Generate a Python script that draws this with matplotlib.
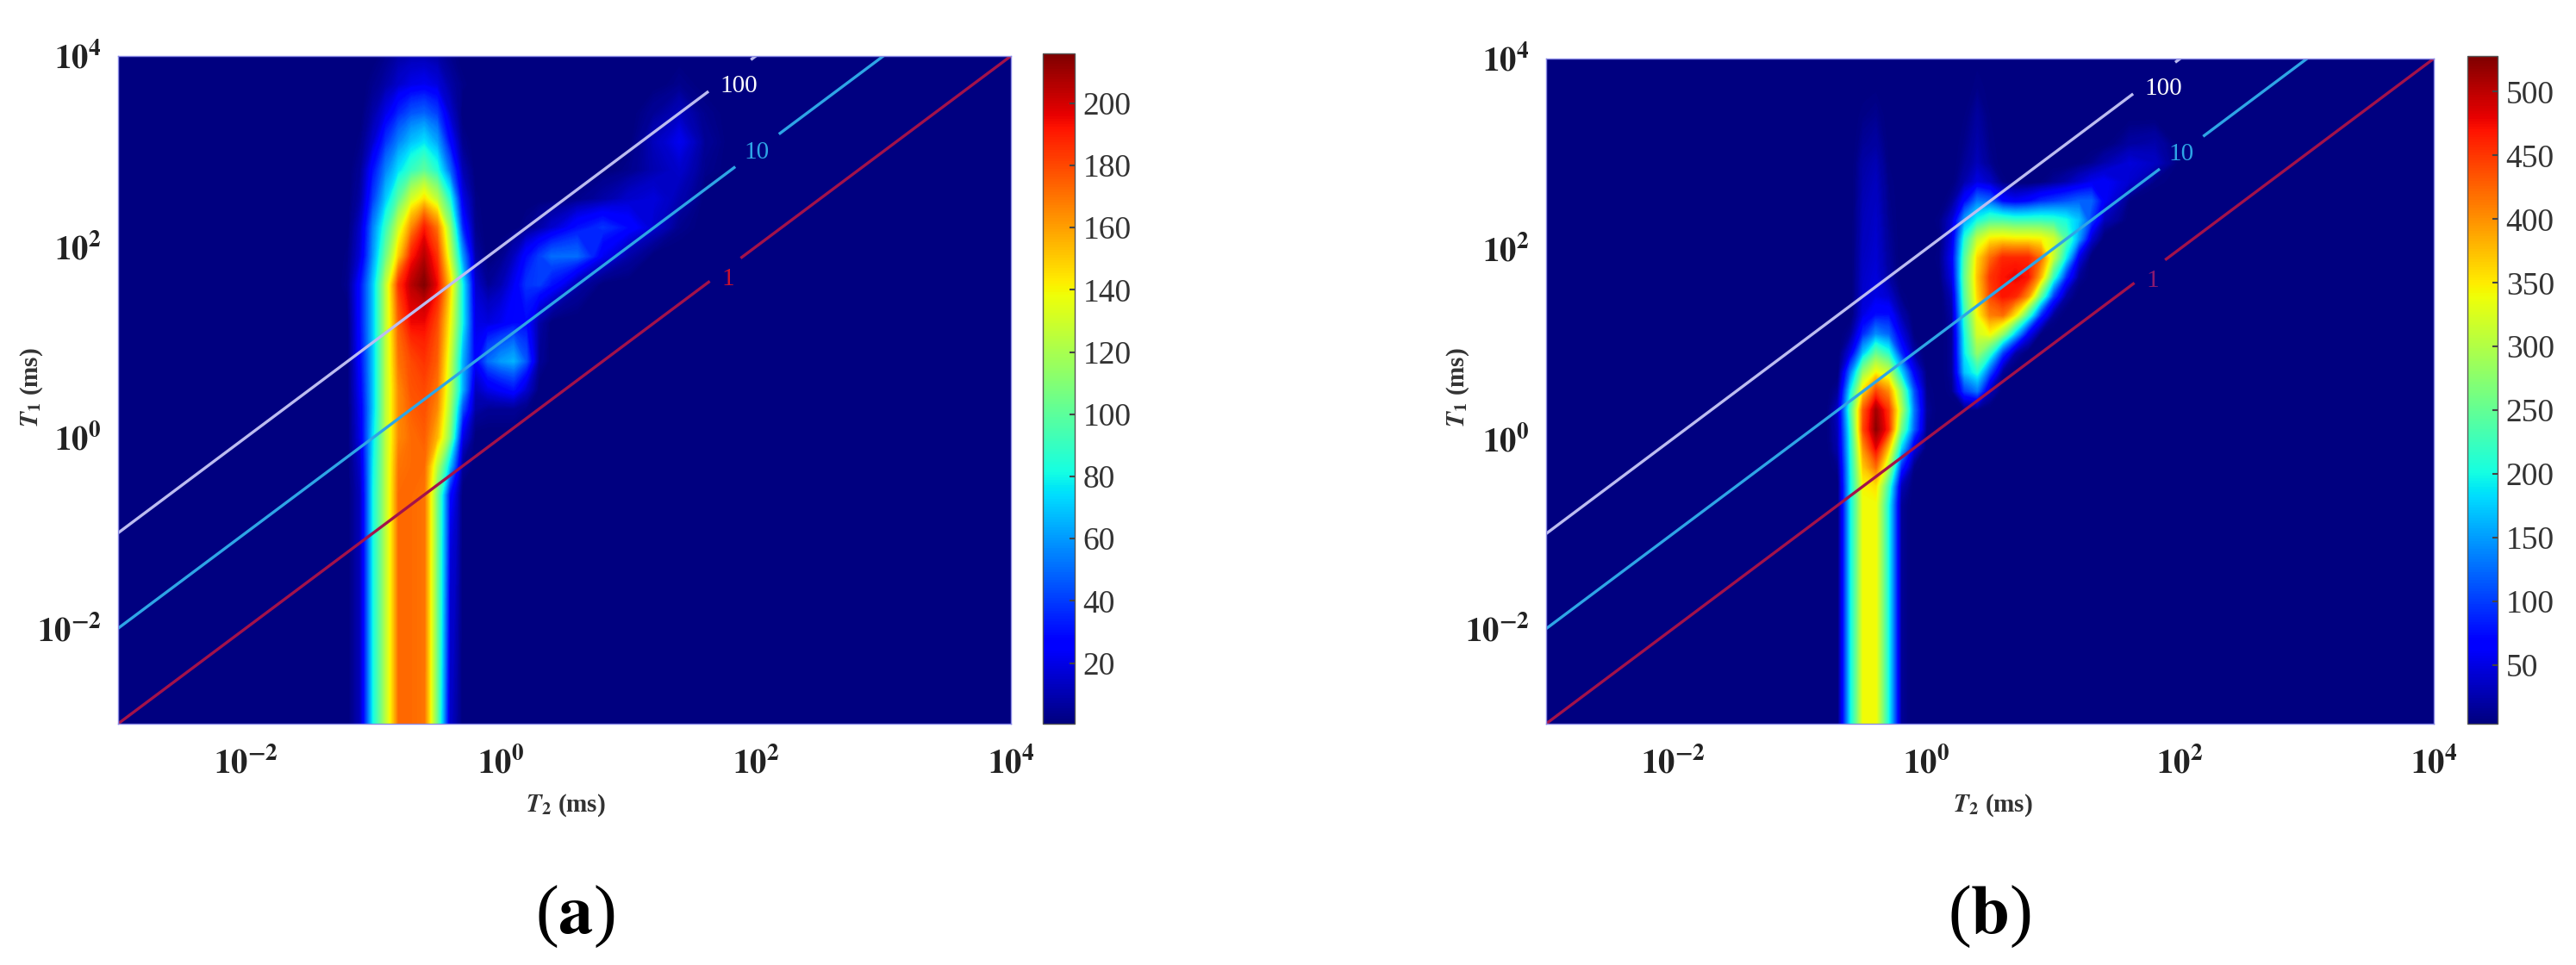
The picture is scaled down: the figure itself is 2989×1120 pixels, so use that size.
import numpy as np
import matplotlib
matplotlib.use('Agg')
import matplotlib.pyplot as plt
from matplotlib.cm import ScalarMappable
from matplotlib.colors import Normalize

plt.rcParams['font.family'] = ['Liberation Serif', 'DejaVu Serif']
plt.rcParams['mathtext.fontset'] = 'stix'

W, H = 2989, 1120

# log10 of the grid positions, panel (a)
log_t2_a = [-3, -1.3, -1.2, -1.1, -1.0, -0.9, -0.8, -0.7, -0.6, -0.5, -0.4, -0.3, -0.2, -0.1,
            0, 0.1, 0.2, 0.3, 0.4, 0.6, 0.8, 1.0, 1.2, 1.4, 1.6, 1.8, 4]
log_t1_a = [-3, -0.6, -0.3, 0, 0.3, 0.5, 0.8, 1.2, 1.6, 1.9, 2.2, 2.5, 2.8, 3.1, 3.4, 3.7, 4]
amp_a = [
    [0, 0, 0, 12, 80, 125, 172, 172, 170, 105, 15, 0, 0, 0, 0, 0, 0, 0, 0, 0, 0, 0, 0, 0, 0, 0, 0],
    [0, 0, 0, 12, 80, 125, 172, 172, 170, 108, 30, 0, 0, 0, 0, 0, 0, 0, 0, 0, 0, 0, 0, 0, 0, 0, 0],
    [0, 0, 0, 15, 78, 125, 170, 172, 172, 125, 70, 5, 0, 0, 0, 0, 0, 0, 0, 0, 0, 0, 0, 0, 0, 0, 0],
    [0, 0, 0, 20, 75, 125, 165, 172, 175, 155, 110, 20, 0, 0, 0, 0, 0, 0, 0, 0, 0, 0, 0, 0, 0, 0, 0],
    [0, 0, 0, 22, 70, 125, 165, 175, 178, 165, 120, 45, 8, 5, 5, 5, 2, 0, 0, 0, 0, 0, 0, 0, 0, 0, 0],
    [0, 0, 0, 25, 70, 125, 165, 178, 180, 170, 125, 65, 12, 20, 25, 30, 15, 0, 0, 0, 0, 0, 0, 0, 0, 0, 0],
    [0, 0, 0, 28, 70, 125, 170, 180, 185, 175, 130, 65, 25, 50, 60, 65, 45, 5, 0, 0, 0, 0, 0, 0, 0, 0, 0],
    [0, 0, 0, 30, 70, 125, 175, 195, 195, 180, 140, 80, 20, 18, 22, 28, 28, 8, 0, 0, 0, 0, 0, 0, 0, 0, 0],
    [0, 0, 3, 30, 70, 125, 185, 205, 215, 195, 150, 80, 15, 5, 10, 22, 38, 40, 30, 8, 0, 0, 0, 0, 0, 0, 0],
    [0, 0, 2, 18, 60, 105, 150, 190, 205, 185, 130, 60, 8, 0, 3, 12, 28, 40, 50, 50, 22, 8, 0, 0, 0, 0, 0],
    [0, 0, 0, 15, 55, 90, 130, 165, 190, 170, 115, 35, 3, 0, 0, 0, 3, 8, 15, 30, 38, 28, 15, 3, 0, 0, 0],
    [0, 0, 0, 8, 40, 70, 100, 130, 145, 125, 85, 20, 2, 0, 0, 0, 0, 0, 0, 3, 8, 15, 18, 10, 0, 0, 0],
    [0, 0, 0, 5, 30, 55, 75, 90, 100, 85, 50, 10, 0, 0, 0, 0, 0, 0, 0, 0, 0, 3, 10, 15, 3, 0, 0],
    [0, 0, 0, 2, 15, 38, 55, 68, 75, 62, 28, 3, 0, 0, 0, 0, 0, 0, 0, 0, 0, 0, 12, 22, 5, 0, 0],
    [0, 0, 0, 0, 8, 20, 35, 45, 48, 40, 15, 0, 0, 0, 0, 0, 0, 0, 0, 0, 0, 0, 5, 12, 3, 0, 0],
    [0, 0, 0, 0, 3, 8, 15, 20, 22, 18, 8, 2, 0, 0, 0, 0, 0, 0, 0, 0, 0, 0, 0, 3, 0, 0, 0],
    [0, 0, 0, 0, 0, 3, 8, 10, 10, 8, 3, 0, 0, 0, 0, 0, 0, 0, 0, 0, 0, 0, 0, 0, 0, 0, 0],
]

# log10 of the grid positions, panel (b)
log_t2_b = [-3, -0.8, -0.7, -0.6, -0.5, -0.4, -0.3, -0.2, -0.1, 0, 0.1, 0.2, 0.3, 0.4, 0.5, 0.6,
            0.7, 0.8, 0.9, 1.0, 1.1, 1.2, 1.3, 1.4, 1.6, 1.8, 2.0, 4]
log_t1_b = [-3, -0.7, -0.5, -0.3, -0.1, 0.1, 0.3, 0.5, 0.7, 0.9, 1.1, 1.3, 1.5, 1.7, 1.9, 2.1,
            2.3, 2.5, 2.7, 2.9, 3.1, 3.4, 3.7, 4]
amp_b = [
    [0, 0, 0, 190, 340, 340, 200, 15, 0, 0, 0, 0, 0, 0, 0, 0, 0, 0, 0, 0, 0, 0, 0, 0, 0, 0, 0, 0],
    [0, 0, 0, 190, 340, 340, 200, 15, 0, 0, 0, 0, 0, 0, 0, 0, 0, 0, 0, 0, 0, 0, 0, 0, 0, 0, 0, 0],
    [0, 0, 0, 190, 345, 355, 225, 30, 0, 0, 0, 0, 0, 0, 0, 0, 0, 0, 0, 0, 0, 0, 0, 0, 0, 0, 0, 0],
    [0, 0, 10, 195, 370, 420, 300, 90, 8, 0, 0, 0, 0, 0, 0, 0, 0, 0, 0, 0, 0, 0, 0, 0, 0, 0, 0, 0],
    [0, 0, 25, 200, 400, 480, 370, 180, 50, 0, 0, 0, 0, 0, 0, 0, 0, 0, 0, 0, 0, 0, 0, 0, 0, 0, 0, 0],
    [0, 0, 30, 210, 440, 520, 460, 260, 120, 10, 0, 0, 0, 0, 0, 0, 0, 0, 0, 0, 0, 0, 0, 0, 0, 0, 0, 0],
    [0, 0, 35, 230, 430, 510, 450, 300, 130, 15, 0, 0, 5, 5, 0, 0, 0, 0, 0, 0, 0, 0, 0, 0, 0, 0, 0, 0],
    [0, 0, 15, 190, 360, 440, 400, 270, 110, 10, 0, 10, 100, 130, 30, 0, 0, 0, 0, 0, 0, 0, 0, 0, 0, 0, 0, 0],
    [0, 0, 0, 130, 280, 340, 310, 180, 60, 5, 0, 15, 170, 210, 110, 15, 0, 0, 0, 0, 0, 0, 0, 0, 0, 0, 0, 0],
    [0, 0, 0, 50, 170, 250, 210, 90, 20, 0, 0, 15, 190, 280, 220, 100, 20, 0, 0, 0, 0, 0, 0, 0, 0, 0, 0, 0],
    [0, 0, 0, 15, 90, 140, 120, 50, 5, 0, 0, 15, 200, 320, 340, 280, 170, 60, 5, 0, 0, 0, 0, 0, 0, 0, 0, 0],
    [0, 0, 0, 0, 50, 75, 75, 25, 0, 0, 0, 20, 220, 340, 410, 420, 350, 230, 90, 15, 0, 0, 0, 0, 0, 0, 0, 0],
    [0, 0, 0, 0, 40, 50, 40, 8, 0, 0, 0, 30, 240, 360, 440, 470, 460, 400, 250, 100, 20, 0, 0, 0, 0, 0, 0, 0],
    [0, 0, 0, 0, 38, 45, 20, 0, 0, 0, 5, 50, 250, 370, 450, 470, 480, 470, 380, 220, 90, 15, 0, 0, 0, 0, 0, 0],
    [0, 0, 0, 0, 35, 42, 18, 0, 0, 0, 8, 60, 240, 360, 420, 460, 460, 460, 420, 310, 190, 50, 0, 0, 0, 0, 0, 0],
    [0, 0, 0, 0, 32, 40, 15, 0, 0, 0, 5, 50, 210, 310, 350, 355, 350, 350, 345, 320, 240, 150, 40, 0, 0, 0, 0, 0],
    [0, 0, 0, 0, 30, 38, 12, 0, 0, 0, 8, 40, 150, 200, 230, 230, 220, 220, 220, 215, 200, 170, 100, 30, 0, 0, 0, 0],
    [0, 0, 0, 0, 28, 35, 10, 0, 0, 0, 0, 15, 70, 130, 120, 70, 60, 70, 90, 100, 110, 120, 120, 60, 5, 0, 0, 0],
    [0, 0, 0, 0, 25, 32, 8, 0, 0, 0, 0, 3, 25, 50, 35, 8, 0, 0, 5, 15, 25, 40, 55, 60, 40, 8, 0, 0],
    [0, 0, 0, 0, 22, 28, 5, 0, 0, 0, 0, 0, 15, 30, 12, 0, 0, 0, 0, 0, 0, 5, 12, 25, 45, 35, 0, 0],
    [0, 0, 0, 0, 15, 20, 3, 0, 0, 0, 0, 0, 10, 25, 8, 0, 0, 0, 0, 0, 0, 0, 0, 3, 20, 25, 0, 0],
    [0, 0, 0, 0, 8, 12, 0, 0, 0, 0, 0, 0, 5, 18, 5, 0, 0, 0, 0, 0, 0, 0, 0, 0, 0, 0, 0, 0],
    [0, 0, 0, 0, 0, 3, 0, 0, 0, 0, 0, 0, 0, 8, 2, 0, 0, 0, 0, 0, 0, 0, 0, 0, 0, 0, 0, 0],
    [0, 0, 0, 0, 0, 0, 0, 0, 0, 0, 0, 0, 0, 2, 0, 0, 0, 0, 0, 0, 0, 0, 0, 0, 0, 0, 0, 0],
]

# T1/T2 guide lines: ratio, colour, T2 where the label gap starts and ends, label position
ratios = [100, 10, 1]
ratio_labels = ['100', '10', '1']
line_colors = ['#bcbcf0', '#2ea5e6', '#a3124a']
gap_start = [10**1.62, 10**1.83, 10**1.63]
gap_end = [10**1.97, 10**2.19, 10**1.89]
label_t2 = [10**1.865, 10**2.01, 10**1.78]
label_t1 = [10**3.68, 10**2.99, 10**1.66]
label_colors_a = ['white', '#2ea5e6', '#c8102e']
label_colors_b = ['white', '#2ea5e6', '#8a1a70']

decades = [1e-2, 1, 1e2, 1e4]
decade_labels = [r'$\mathbf{10^{-2}}$', r'$\mathbf{10^{0}}$', r'$\mathbf{10^{2}}$', r'$\mathbf{10^{4}}$']
ticks_a = [20, 40, 60, 80, 100, 120, 140, 160, 180, 200]
ticks_b = [50, 100, 150, 200, 250, 300, 350, 400, 450, 500]


def pix_axes(x0, y0, x1, y1):
    return fig.add_axes([x0 / W, 1 - y1 / H, (x1 - x0) / W, (y1 - y0) / H])


def panel(box, cbox, log_t2, log_t1, amp, vmin, vmax, ticks, label_colors, xlab, ylab, tag):
    ax = pix_axes(*box)
    t2 = 10.0 ** np.array(log_t2)
    t1 = 10.0 ** np.array(log_t1)
    norm = Normalize(vmin, vmax)
    ax.contourf(t2, t1, np.array(amp), levels=np.linspace(0, vmax, 300),
                cmap='jet', norm=norm, antialiased=False)
    ax.set_xscale('log')
    ax.set_yscale('log')
    ax.set_xlim(1e-3, 1e4)
    ax.set_ylim(1e-3, 1e4)

    for r, c, g0, g1, lx, ly, lc, txt in zip(ratios, line_colors, gap_start, gap_end,
                                             label_t2, label_t1, label_colors, ratio_labels):
        ax.plot([1e-3, g0], [1e-3 * r, g0 * r], color=c, lw=2.4)
        ax.plot([g1, 1e4], [g1 * r, 1e4 * r], color=c, lw=2.4)
        ax.text(lx, ly, txt, color=lc, fontsize=21, ha='center', va='center')

    ax.set_xticks(decades)
    ax.set_xticklabels(decade_labels, fontsize=28, color='#222222')
    ax.set_yticks(decades)
    ax.set_yticklabels(decade_labels, fontsize=28, color='#222222')
    ax.minorticks_off()
    ax.tick_params(length=0)
    ax.tick_params(axis='x', pad=20)
    ax.tick_params(axis='y', pad=14)
    for s in ax.spines.values():
        s.set_color('#8a8ae6')
        s.set_linewidth(1)

    fig.text(xlab[0] / W, 1 - xlab[1] / H, r'$\mathbfit{T}_{\mathbf{2}}$ (ms)', fontsize=21,
             fontweight='bold', color='#333333', ha='center', va='center')
    fig.text(ylab[0] / W, 1 - ylab[1] / H, r'$\mathbfit{T}_{\mathbf{1}}$ (ms)', fontsize=21,
             fontweight='bold', color='#333333', ha='center', va='center', rotation=90)
    fig.text(tag[0] / W, 1 - tag[1] / H, tag[2], fontsize=58, color='black', ha='center', va='center')

    cax = pix_axes(*cbox)
    cb = fig.colorbar(ScalarMappable(norm=norm, cmap='jet'), cax=cax)
    cb.set_ticks(ticks)
    cax.tick_params(direction='in', length=4, width=1.5, color='#444444', labelsize=27,
                    labelcolor='#333333', pad=7)
    cb.outline.set_edgecolor('#555555')
    cb.outline.set_linewidth(1)


fig = plt.figure(figsize=(W / 100, H / 100), dpi=100, facecolor='white')

panel((137, 65, 1173, 840), (1210, 62, 1247, 840), log_t2_a, log_t1_a, amp_a, 0.5, 216,
      ticks_a, label_colors_a, (656, 935), (37, 450), (667, 1064, r'($\mathbf{a}$)'))
panel((1794, 68, 2824, 840), (2863, 65, 2898, 840), log_t2_b, log_t1_b, amp_b, 4, 528,
      ticks_b, label_colors_b, (2312, 935), (1692, 450), (2308, 1064, r'($\mathbf{b}$)'))

fig.savefig('out.png', dpi=100)
